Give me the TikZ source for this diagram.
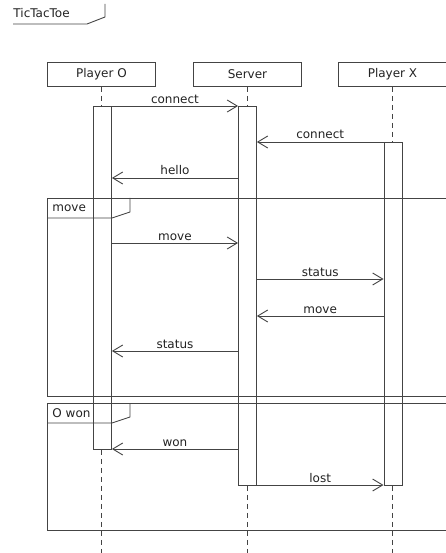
\documentclass[tikz,border=0pt]{standalone}
\usepackage{fontspec}
\setmainfont{DejaVu Sans}
\usetikzlibrary{arrows.meta}
\definecolor{ink}{HTML}{444444}
\definecolor{txt}{HTML}{222222}
\begin{document}
\begin{tikzpicture}[x=1pt,y=-1pt,
  line width=0.9pt, draw=ink,
  every node/.style={text=txt, font=\fontsize{12}{14}\selectfont},
  actor/.style={draw=ink, minimum width=108pt, minimum height=24pt, inner sep=0pt, anchor=north west},
  bar/.style={draw=ink, minimum width=18pt, inner sep=0pt, anchor=north west},
  life/.style={draw=ink, dash pattern=on 5pt off 4pt},
  msg/.style={draw=ink, -{Straight Barb[length=10pt,width=12pt,line width=0.9pt]}},
  lbl/.style={anchor=base, inner sep=0pt},
  frameline/.style={draw=ink}
]
\useasboundingbox (0,0) rectangle (446,553);

% diagram title
\node[anchor=base west, inner sep=0pt] (title) at (13,18) {TicTacToe};
\draw[frameline] (13,24) -- (87,24) -- (105,17) -- (105,4);

% participants
\node[actor] (pO) at (47,62) {Player O};
\node[actor] (pS) at (193,62) {Server};
\node[actor] (pX) at (338,62) {Player X};

% activation bars
\node[bar, minimum height=343pt] (aO) at (93,106) {};
\node[bar, minimum height=379pt] (aS) at (238,106) {};
\node[bar, minimum height=343pt] (aX) at (383.5,142) {};

% lifelines
\draw[life] (pO.south) -- (pO.south |- aO.north);
\draw[life] (pS.south) -- (pS.south |- aS.north);
\draw[life] (pX.south) -- (pX.south |- aX.north);
\draw[life] (pO.south |- aO.south) -- (pO.south |- 0,553);
\draw[life] (pS.south |- aS.south) -- (pS.south |- 0,553);
\draw[life] (pX.south |- aX.south) -- (pX.south |- 0,553);

% combined fragments
\draw[frameline] (47.5,198) rectangle (447,396);
\draw[frameline] (47.5,218) -- (112,218) -- (130,212) -- (130,198);
\node[anchor=west, inner sep=0pt] (fmove) at (52,208) {move};

\draw[frameline] (47.5,403) rectangle (447,530);
\draw[frameline] (47.5,423) -- (112,423) -- (130,417) -- (130,403);
\node[anchor=west, inner sep=0pt] (fwon) at (52,413) {O won};

% messages
\draw[msg] (aO.east |- 0,106) -- node[lbl, yshift=2.5pt] (m1) {connect} (aS.west |- 0,106);
\draw[msg] (aX.west |- 0,142) -- node[lbl, yshift=3pt] (m2) {connect} (aS.east |- 0,142);
\draw[msg] (aS.west |- 0,178) -- node[lbl, yshift=3pt] (m3) {hello} (aO.east |- 0,178);

\draw[msg] (aO.east |- 0,243) -- node[lbl, yshift=3pt] (m4) {move} (aS.west |- 0,243);
\draw[msg] (aS.east |- 0,279) -- node[lbl, yshift=3pt] (m5) {status} (aX.west |- 0,279);
\draw[msg] (aX.west |- 0,316) -- node[lbl, yshift=3pt] (m6) {move} (aS.east |- 0,316);
\draw[msg] (aS.west |- 0,351) -- node[lbl, yshift=3pt] (m7) {status} (aO.east |- 0,351);

\draw[msg] (aS.west |- 0,449) -- node[lbl, yshift=3pt] (m8) {won} (aO.east |- 0,449);
\draw[msg] (aS.east |- 0,485) -- node[lbl, yshift=3pt] (m9) {lost} (aX.west |- 0,485);
\end{tikzpicture}
\end{document}
